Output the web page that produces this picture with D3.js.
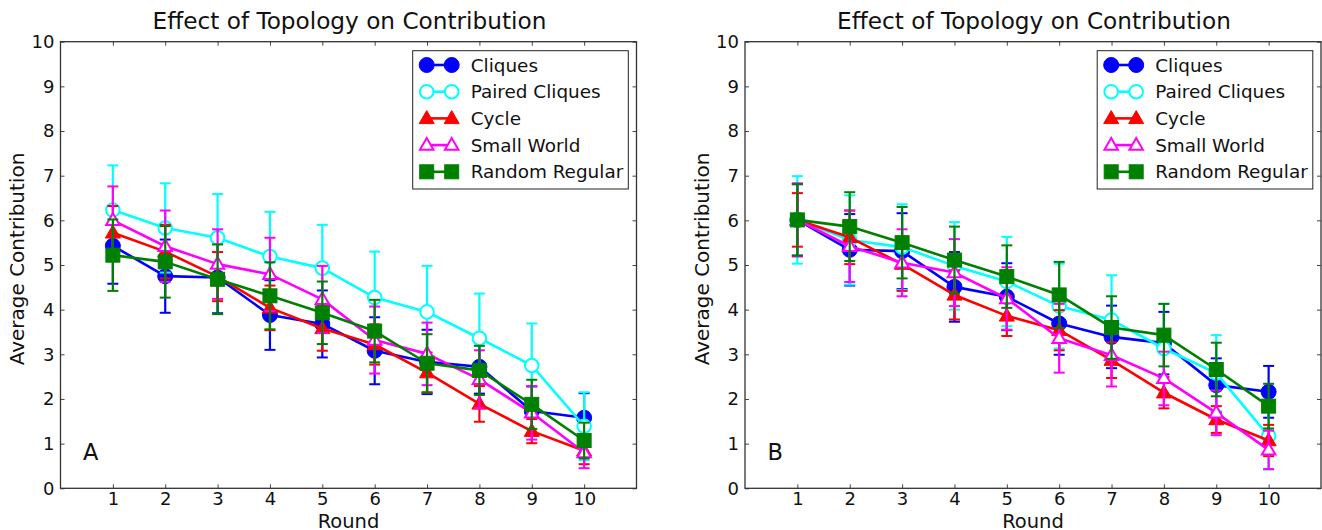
<!DOCTYPE html>
<html><head><meta charset="utf-8">
<script src="https://cdn.jsdelivr.net/npm/d3@7"></script>
<style>body{margin:0;background:#fff}svg{display:block}text{font-family:"DejaVu Sans",sans-serif;fill:#111}</style>
</head><body>
<svg id="c" width="1322" height="530"></svg>
<script>
const rounds = [1,2,3,4,5,6,7,8,9,10];
const seriesNames = ["Cliques","Paired Cliques","Cycle","Small World","Random Regular"];
const seriesColors = ["#0000ff","#00ffff","#ff0000","#ff00ff","#008000"];
const seriesMarkers = ["circle","circle","triangle","triangle","square"];
const seriesFilled = [true,false,true,false,true];
const yTicks = [0,1,2,3,4,5,6,7,8,9,10];
const xTicks = [1,2,3,4,5,6,7,8,9,10];
const panelLabels = ["A","B"];
const chartTitle = "Effect of Topology on Contribution";

// Panel A means
const aCliques = [5.43,4.75,4.72,3.88,3.68,3.08,2.83,2.72,1.73,1.58];
const aPaired  = [6.23,5.83,5.61,5.19,4.93,4.27,3.95,3.36,2.75,1.39];
const aCycle   = [5.72,5.30,4.74,4.04,3.58,3.22,2.59,1.89,1.28,0.84];
const aSmall   = [6.00,5.42,5.02,4.79,4.23,3.32,3.01,2.44,1.69,0.80];
const aRandom  = [5.22,5.07,4.68,4.31,3.93,3.52,2.80,2.64,1.88,1.07];
// Panel A error half-widths
const aCliquesErr = [0.85,0.82,0.80,0.78,0.75,0.75,0.72,0.60,0.55,0.55];
const aPairedErr  = [1.00,1.00,0.98,1.00,0.97,1.03,1.03,1.00,0.94,0.76];
const aCycleErr   = [0.60,0.60,0.55,0.50,0.50,0.45,0.45,0.40,0.27,0.30];
const aSmallErr   = [0.76,0.80,0.78,0.82,0.75,0.75,0.70,0.65,0.60,0.35];
const aRandomErr  = [0.80,0.80,0.78,0.75,0.70,0.70,0.65,0.55,0.55,0.40];

// Panel B means
const bCliques = [6.01,5.34,5.31,4.51,4.29,3.69,3.39,3.25,2.31,2.16];
const bPaired  = [6.01,5.56,5.40,4.98,4.63,4.08,3.77,3.13,2.58,1.17];
const bCycle   = [6.01,5.62,5.02,4.33,3.86,3.54,2.87,2.14,1.54,1.07];
const bSmall   = [6.01,5.42,5.05,4.83,4.25,3.36,2.98,2.46,1.69,0.86];
const bRandom  = [6.01,5.86,5.50,5.11,4.74,4.33,3.60,3.43,2.66,1.84];
const bCliquesErr = [0.80,0.80,0.85,0.78,0.75,0.70,0.70,0.70,0.60,0.58];
const bPairedErr  = [0.98,1.00,0.96,0.98,1.00,0.95,1.00,1.00,0.85,0.75];
const bCycleErr   = [0.60,0.60,0.60,0.55,0.45,0.45,0.40,0.35,0.30,0.35];
const bSmallErr   = [0.82,0.80,0.75,0.75,0.70,0.77,0.70,0.60,0.50,0.43];
const bRandomErr  = [0.80,0.77,0.80,0.75,0.70,0.74,0.70,0.70,0.60,0.50];

const panels = [
  {means:[aCliques,aPaired,aCycle,aSmall,aRandom], errs:[aCliquesErr,aPairedErr,aCycleErr,aSmallErr,aRandomErr]},
  {means:[bCliques,bPaired,bCycle,bSmall,bRandom], errs:[bCliquesErr,bPairedErr,bCycleErr,bSmallErr,bRandomErr]}
];

const svg = d3.select("#c");
const lefts = [60.5, 745];
const W = 576, topY = 41.7, bottomY = 488.3;

function marker(g, type, filled, color, cx, cy) {
  const fill = filled ? color : "#fff";
  if (type === "circle") {
    g.append("circle").attr("cx",cx).attr("cy",cy).attr("r",filled?7.5:6.8)
      .attr("fill",fill).attr("stroke",color).attr("stroke-width",filled?1:2);
  } else if (type === "square") {
    g.append("rect").attr("x",cx-7).attr("y",cy-7).attr("width",14).attr("height",14)
      .attr("fill",fill).attr("stroke",color).attr("stroke-width",1);
  } else {
    const s = filled ? 15 : 13.5;
    const h = s*Math.sqrt(3)/2;
    const pts = [[cx,cy-h*0.6],[cx-s/2,cy+h*0.4],[cx+s/2,cy+h*0.4]];
    g.append("path").attr("d","M"+pts.map(p=>p.join(",")).join("L")+"Z")
      .attr("fill",fill).attr("stroke",color).attr("stroke-width",filled?1:2).attr("stroke-linejoin","miter");
  }
}

panels.forEach((p, pi) => {
  const L = lefts[pi];
  const x = d3.scaleLinear().domain([0,11]).range([L, L+W]);
  const y = d3.scaleLinear().domain([0,10]).range([bottomY, topY]);
  const g = svg.append("g");

  const ax = g.append("g").attr("transform",`translate(0,${bottomY})`)
    .call(d3.axisBottom(x).tickValues(xTicks).tickSizeInner(-4).tickSizeOuter(0).tickPadding(4).tickFormat(d3.format("d")));
  const ay = g.append("g").attr("transform",`translate(${L},0)`)
    .call(d3.axisLeft(y).tickValues(yTicks).tickSizeInner(-4).tickSizeOuter(0).tickPadding(6).tickFormat(d3.format("d")));
  const at = g.append("g").attr("transform",`translate(0,${topY})`)
    .call(d3.axisTop(x).tickValues(xTicks).tickSizeInner(-4).tickSizeOuter(0).tickFormat(""));
  const ar = g.append("g").attr("transform",`translate(${L+W},0)`)
    .call(d3.axisRight(y).tickValues(yTicks).tickSizeInner(-4).tickSizeOuter(0).tickFormat(""));
  [ax,ay,at,ar].forEach(a => {
    a.select(".domain").remove();
    a.selectAll("line").attr("stroke","#444").attr("stroke-width",1);
    a.selectAll("text").style("font-size","18px").style("font-family","DejaVu Sans").attr("fill","#111");
  });

  const dg = g.append("g");
  seriesNames.forEach((name, si) => {
    const col = seriesColors[si];
    const m = p.means[si], e = p.errs[si];
    const sg = dg.append("g");
    rounds.forEach((r, i) => {
      const cx = x(r), y1 = y(m[i]-e[i]), y2 = y(m[i]+e[i]);
      sg.append("line").attr("x1",cx).attr("x2",cx).attr("y1",y1).attr("y2",y2).attr("stroke",col).attr("stroke-width",2.2);
      [y1,y2].forEach(yy => sg.append("line").attr("x1",cx-5.5).attr("x2",cx+5.5).attr("y1",yy).attr("y2",yy).attr("stroke",col).attr("stroke-width",2));
    });
    const line = d3.line().x((d,i)=>x(rounds[i])).y(d=>y(d));
    sg.append("path").attr("d",line(m)).attr("fill","none").attr("stroke",col).attr("stroke-width",2.6).attr("stroke-linejoin","round");
    rounds.forEach((r,i) => marker(sg, seriesMarkers[si], seriesFilled[si], col, x(r), y(m[i])));
  });

  g.append("rect").attr("x",L).attr("y",topY).attr("width",W).attr("height",bottomY-topY)
    .attr("fill","none").attr("stroke","#333").attr("stroke-width",1.3);

  g.append("text").attr("x",L+W/2+1).attr("y",29.3).attr("text-anchor","middle").style("font-size","23.2px").text(chartTitle);
  g.append("text").attr("x",L+W/2).attr("y",528).attr("text-anchor","middle").style("font-size","19.5px").text("Round");
  g.append("text").attr("transform",`translate(${L-36.5},${(topY+bottomY)/2 - 6}) rotate(-90)`).attr("text-anchor","middle").style("font-size","20px").text("Average Contribution");
  g.append("text").attr("x",L+22.5).attr("y",460).style("font-size","22.5px").text(panelLabels[pi]);

  const lx = L + 352.2, ly = 50.7;
  const lg = g.append("g");
  lg.append("rect").attr("x",lx).attr("y",ly).attr("width",215.6).attr("height",138.3).attr("fill","#fff").attr("stroke","#222").attr("stroke-width",1);
  seriesNames.forEach((name, si) => {
    const ry = ly + 14.3 + si*26.7;
    const col = seriesColors[si];
    lg.append("line").attr("x1",lx+14).attr("x2",lx+39).attr("y1",ry).attr("y2",ry).attr("stroke",col).attr("stroke-width",2.6);
    marker(lg, seriesMarkers[si], seriesFilled[si], col, lx+14, ry);
    marker(lg, seriesMarkers[si], seriesFilled[si], col, lx+39, ry);
    lg.append("text").attr("x",lx+58).attr("y",ry).attr("dy","0.36em").style("font-size","18.4px").text(name);
  });
});
</script>
</body></html>
